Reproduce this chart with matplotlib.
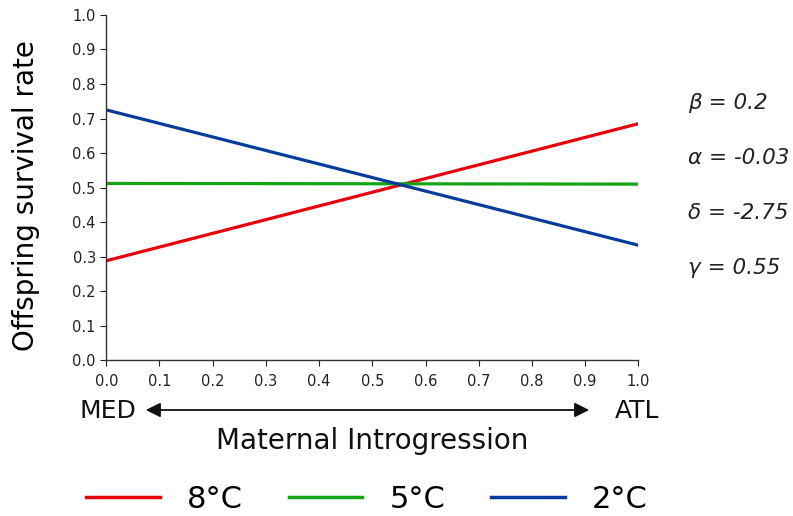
import matplotlib
matplotlib.use("Agg")
import matplotlib.pyplot as plt
from matplotlib.lines import Line2D

x = [0.0, 1.0]
red_8C = [0.288, 0.685]
green_5C = [0.512, 0.510]
blue_2C = [0.725, 0.333]
series_labels = ["8°C", "5°C", "2°C"]
colors = ["#e8000b", "#14a514", "#073c9c"]
params = ["β = 0.2", "α = -0.03", "δ = -2.75", "γ = 0.55"]
ticks = [round(i * 0.1, 1) for i in range(11)]

plt.rcParams['font.family'] = ['DejaVu Sans']
fig = plt.figure(figsize=(7.93, 5.16), dpi=100)
ax = fig.add_axes([0.134, 0.302, 0.671, 0.669])
for ys, c in zip([red_8C, green_5C, blue_2C], colors):
    ax.plot(x, ys, color=c, lw=2.3, solid_capstyle='butt')
ax.set_xlim(0, 1)
ax.set_ylim(0, 1)
ax.set_xticks(ticks)
ax.set_yticks(ticks)
ax.set_xticklabels([f"{t:.1f}" for t in ticks])
ax.set_yticklabels([f"{t:.1f}" for t in ticks])
ax.tick_params(labelsize=10.5, length=4, color='#222222', labelcolor='#222222')
ax.xaxis.set_tick_params(pad=6)
for s in ['top', 'right']:
    ax.spines[s].set_visible(False)
for s in ['left', 'bottom']:
    ax.spines[s].set_linewidth(1.0)
    ax.spines[s].set_color('#333333')
ax.set_ylabel("Offspring survival rate", fontsize=20, labelpad=8)
ax.yaxis.set_label_coords(-0.124, 0.478)

# parameters
for i, p in enumerate(params):
    fig.text(0.868, 1 - (103 + 55 * i) / 516, p, fontsize=15.5, style='italic',
             va='center', ha='left', color='#222222')

# MED/ATL arrow
fig.text(108 / 793, 1 - 411 / 516, "MED", fontsize=18, ha='center', va='center', color='#111111')
fig.text(637 / 793, 1 - 411 / 516, "ATL", fontsize=18, ha='center', va='center', color='#111111')
fig.patches.append(matplotlib.patches.FancyArrowPatch(
    (143 / 793, 1 - 410 / 516), (592 / 793, 1 - 410 / 516), transform=fig.transFigure,
    arrowstyle='<|-|>', mutation_scale=22, lw=1.3, color='#111111'))
fig.text(372 / 793, 1 - 441 / 516, "Maternal Introgression", fontsize=20, ha='center', va='center', color='#111111')

handles = [Line2D([0], [0], color=c, lw=2.5) for c in colors]
fig.legend(handles, series_labels, loc='center', bbox_to_anchor=(0.463, 1 - 499 / 516),
           ncol=3, frameon=False, fontsize=22, handlelength=2.4, columnspacing=1.5,
           handletextpad=0.9, borderpad=0.0, borderaxespad=0.0)

fig.savefig("out.png", dpi=100)
